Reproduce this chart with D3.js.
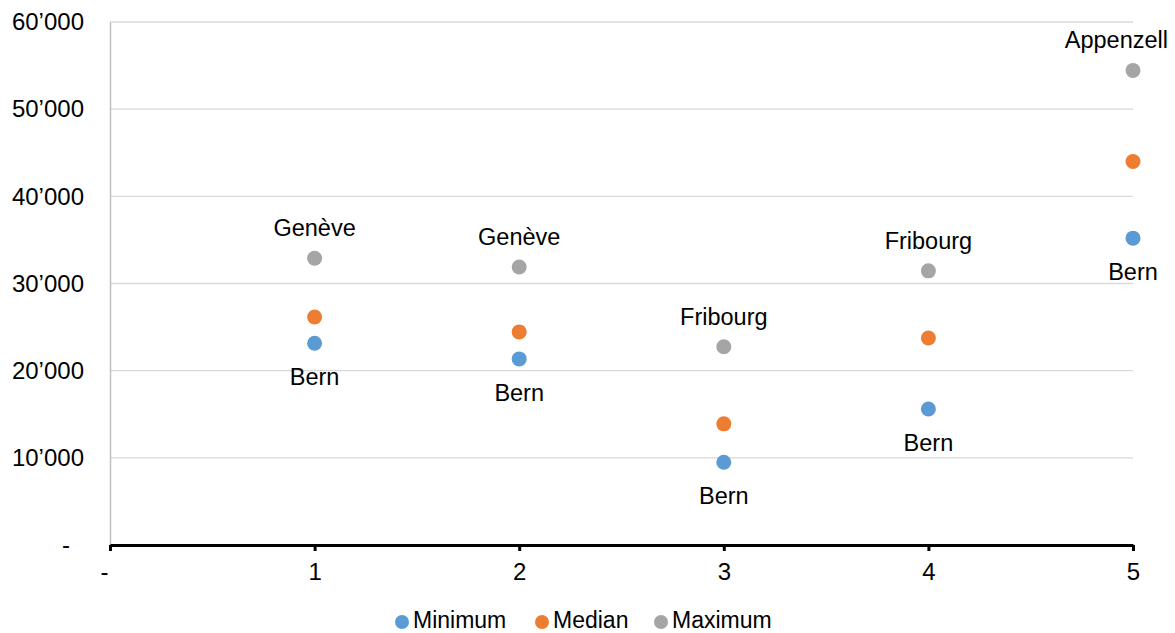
<!DOCTYPE html>
<html>
<head>
<meta charset="utf-8">
<script src="https://cdn.jsdelivr.net/npm/d3@7"></script>
<style>
  html, body { margin: 0; padding: 0; background: #fff; }
  svg { display: block; font-family: "Liberation Sans", Arial, sans-serif; }
</style>
</head>
<body>
<svg id="chart" width="1175" height="633"></svg>
<script>
// ---- data ----
const xValues = [1, 2, 3, 4, 5];
const minimum = [23150, 21350, 9500, 15600, 35200];
const median = [26150, 24450, 13900, 23750, 44000];
const maximum = [32900, 31900, 22750, 31450, 54450];
const minLabels = ["Bern", "Bern", "Bern", "Bern", "Bern"];
const maxLabels = ["Genève", "Genève", "Fribourg", "Fribourg", "Appenzell"];
const seriesNames = ["Minimum", "Median", "Maximum"];
const seriesColors = ["#5B9BD5", "#ED7D31", "#A5A5A5"];
const yTicks = [0, 10000, 20000, 30000, 40000, 50000, 60000];
const xTicks = [0, 1, 2, 3, 4, 5];

// ---- layout ----
const svg = d3.select("#chart");
const W = 1175, H = 633;
const m = { left: 110, right: 42, top: 22, bottom: 88 };
const x = d3.scaleLinear().domain([0, 5]).range([m.left, W - m.right]);
const y = d3.scaleLinear().domain([0, 60000]).range([H - m.bottom, m.top]);
const fs = 23.5;
const fsAxis = 24;

const fmt = v => v === 0 ? "-" : d3.format(",")(v).replace(/,/g, "\u2019");

// gridlines
svg.append("g")
  .selectAll("line").data(yTicks.filter(d => d > 0)).join("line")
  .attr("x1", x(0)).attr("x2", x(5))
  .attr("y1", d => y(d)).attr("y2", d => y(d))
  .attr("stroke", "#D9D9D9").attr("stroke-width", 1.3);

// y axis
const yAxis = svg.append("g").attr("transform", `translate(${x(0)},0)`)
  .call(d3.axisLeft(y).tickValues(yTicks).tickFormat(fmt).tickSize(0).tickPadding(26));
yAxis.select(".domain").attr("stroke", "#BFBFBF").attr("stroke-width", 1.5);
yAxis.selectAll("text").attr("font-size", fsAxis).attr("fill", "#000")
  .attr("font-family", "Liberation Sans, Arial, sans-serif")
  .attr("dx", d => d === 0 ? -14 : 0);

// x axis
const xAxis = svg.append("g").attr("transform", `translate(0,${y(0)})`)
  .call(d3.axisBottom(x).tickValues(xTicks).tickFormat(d => d === 0 ? "-" : d)
        .tickSizeInner(6).tickSizeOuter(0).tickPadding(12));
xAxis.select(".domain").attr("stroke", "#000").attr("stroke-width", 3);
xAxis.selectAll(".tick line").attr("stroke", "#000").attr("stroke-width", 3);
xAxis.selectAll("text").attr("font-size", fsAxis).attr("fill", "#000")
  .attr("font-family", "Liberation Sans, Arial, sans-serif")
  .attr("dx", d => d === 0 ? -6 : 0);

// points
const series = [minimum, median, maximum];
const pts = svg.append("g");
series.forEach((vals, si) => {
  pts.selectAll(null).data(vals).join("circle")
    .attr("cx", (d, i) => x(xValues[i]))
    .attr("cy", d => y(d))
    .attr("r", 7.5)
    .attr("fill", seriesColors[si]);
});

// labels
const lab = svg.append("g").attr("font-size", fs).attr("fill", "#000");
const maxText = lab.selectAll(null).data(maximum).join("text")
  .attr("x", (d, i) => x(xValues[i]))
  .attr("y", d => y(d) - 22)
  .attr("text-anchor", "middle")
  .text((d, i) => maxLabels[i]);
lab.selectAll(null).data(minimum).join("text")
  .attr("x", (d, i) => x(xValues[i]))
  .attr("y", d => y(d) + 42)
  .attr("text-anchor", "middle")
  .text((d, i) => minLabels[i]);
// keep labels inside the chart area
maxText.each(function() {
  const w = this.getComputedTextLength();
  const cx = +this.getAttribute("x");
  if (cx + w / 2 > W - 7) this.setAttribute("x", W - 7 - w / 2);
});

// legend
const legItems = [
  { name: seriesNames[0], color: seriesColors[0], cx: 402 },
  { name: seriesNames[1], color: seriesColors[1], cx: 542 },
  { name: seriesNames[2], color: seriesColors[2], cx: 661 }
];
const leg = svg.append("g");
legItems.forEach(it => {
  leg.append("circle").attr("cx", it.cx).attr("cy", 622).attr("r", 7).attr("fill", it.color);
  leg.append("text").attr("x", it.cx + 11).attr("y", 628).attr("font-size", 23).attr("fill", "#000").text(it.name);
});
</script>
</body>
</html>
